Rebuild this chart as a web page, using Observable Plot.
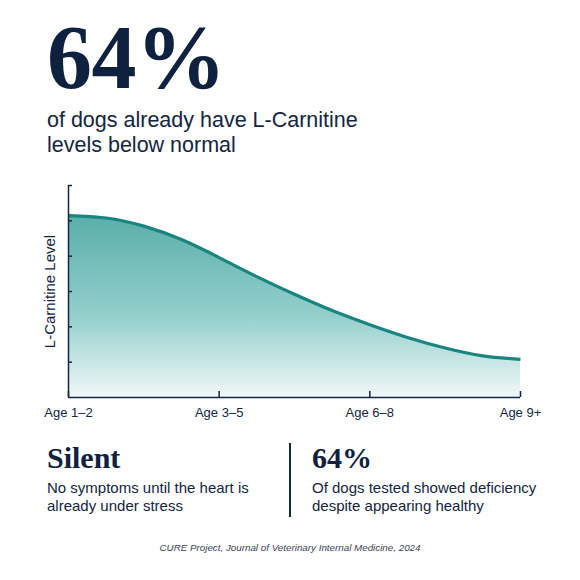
<!DOCTYPE html>
<html>
<head>
<meta charset="utf-8">
<script src="https://cdn.jsdelivr.net/npm/d3@7"></script>
<script src="https://cdn.jsdelivr.net/npm/@observablehq/plot@0.6"></script>
<style>
  body { margin: 0; background: #ffffff; }
  #root { position: relative; width: 580px; height: 580px; overflow: hidden; background: #ffffff; }
  .abs { position: absolute; white-space: nowrap; }
  .serif { font-family: "Liberation Serif", "DejaVu Serif", serif; font-weight: 700; color: #0e2240; }
  .sans { font-family: "Liberation Sans", Arial, sans-serif; color: #14253f; }
</style>
</head>
<body>
<div id="root">
  <div class="abs serif" style="left:47px; top:18px; font-size:90px; line-height:80px; letter-spacing:-0.5px;">64%</div>
  <div class="abs sans" style="left:47px; top:108px; font-size:21.5px; line-height:25px;">of dogs already have L-Carnitine<br>levels below normal</div>
  <div id="chart" class="abs" style="left:0; top:170px;"></div>
  <div class="abs serif" style="left:47px; top:443px; font-size:30px; line-height:30px;">Silent</div>
  <div class="abs sans" style="left:47px; top:479px; font-size:15px; line-height:17.7px;">No symptoms until the heart is<br>already under stress</div>
  <div class="abs" style="left:289px; top:443px; width:1.5px; height:74px; background:#14253f;"></div>
  <div class="abs serif" style="left:312px; top:443px; font-size:30px; line-height:30px;">64%</div>
  <div class="abs sans" style="left:312px; top:479px; font-size:15px; line-height:17.7px;">Of dogs tested showed deficiency<br>despite appearing healthy</div>
  <div class="abs sans" style="left:0; width:580px; text-align:center; top:542px; font-size:9.8px; line-height:12px; font-style:italic; color:#3a4456;">CURE Project, Journal of Veterinary Internal Medicine, 2024</div>
</div>
<script>
const ageLabels = ["Age 1–2", "Age 3–5", "Age 6–8", "Age 9+"];
const agePos = [0, 1, 2, 3];
const curvePos = [0, 0.25, 0.5, 0.75, 1, 1.25, 1.5, 1.75, 2, 2.25, 2.5, 2.75, 3];
const curveLevel = [5.15, 5.08, 4.85, 4.47, 3.96, 3.42, 2.92, 2.46, 2.06, 1.70, 1.40, 1.18, 1.08];
const yTicks = [1, 2, 3, 4, 5, 6];
const yLabel = "L-Carnitine Level";

const navy = "#14253f";
const teal = "#1a8580";

const data = curvePos.map((p, i) => ({pos: p, level: curveLevel[i]}));

const W = 580, H = 260, mL = 68, mR = 60, mT = 15, mB = 33;
const plotW = W - mL - mR, plotH = H - mT - mB;

const gradientDefs = () => {
  const defs = d3.create("svg:defs");
  const g = defs.append("linearGradient")
    .attr("id", "lcGrad").attr("x1", 0).attr("y1", 0).attr("x2", 0).attr("y2", 1);
  g.append("stop").attr("offset", "0%").attr("stop-color", "#5aaeaa");
  g.append("stop").attr("offset", "55%").attr("stop-color", "#93cfcb");
  g.append("stop").attr("offset", "100%").attr("stop-color", "#f0f8f8");
  return defs.node();
};

const chart = Plot.plot({
  width: W,
  height: H,
  marginLeft: mL,
  marginRight: mR,
  marginTop: mT,
  marginBottom: mB,
  style: {background: "transparent", overflow: "visible"},
  x: {domain: [0, 3], axis: null},
  y: {domain: [0, 6], axis: null},
  marks: [
    gradientDefs,
    Plot.areaY(data, {x: "pos", y: "level", curve: "natural", fill: "url(#lcGrad)"}),
    Plot.lineY(data, {x: "pos", y: "level", curve: "natural", stroke: teal, strokeWidth: 3.2, strokeLinecap: "butt"}),
    Plot.ruleX([0], {stroke: navy, strokeWidth: 1.5}),
    Plot.ruleY([0], {stroke: navy, strokeWidth: 1.5}),
    Plot.tickX(agePos, {x: d => d, insetTop: plotH - 6, stroke: navy, strokeWidth: 1.5}),
    Plot.tickY(yTicks, {y: d => d, insetRight: plotW - 4, stroke: navy, strokeWidth: 1.5}),
    Plot.axisX(agePos, {
      tickSize: 0,
      tickPadding: 10,
      tickFormat: d => ageLabels[agePos.indexOf(d)],
      fontSize: 13,
      fontFamily: "Liberation Sans, Arial, sans-serif",
      color: navy,
      label: null
    }),
    Plot.text([yLabel], {
      text: d => d,
      frameAnchor: "left",
      textAnchor: "middle",
      rotate: -90,
      dx: -18,
      fontSize: 15,
      fontFamily: "Liberation Sans, Arial, sans-serif",
      fill: navy
    })
  ]
});

document.getElementById("chart").appendChild(chart);
</script>
</body>
</html>
